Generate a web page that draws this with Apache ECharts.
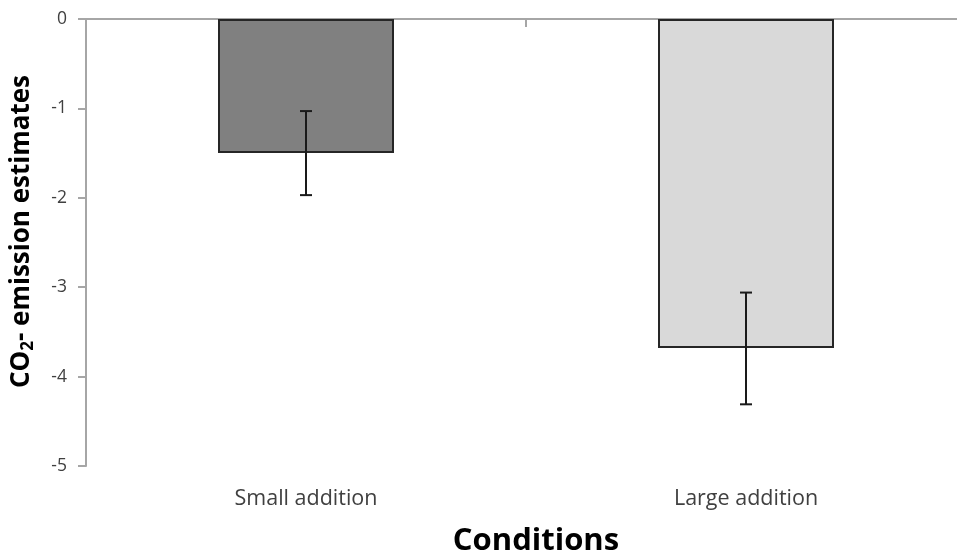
<!DOCTYPE html>
<html>
<head>
<meta charset="utf-8">
<script src="https://cdn.jsdelivr.net/npm/echarts@6/dist/echarts.min.js"></script>
<style>html,body{margin:0;padding:0;background:#fff}#c{width:957px;height:555px}</style>
</head>
<body>
<div id="c"></div>
<script>
const categories = ['Small addition', 'Large addition'];
const means = [-1.50, -3.68];
const errLow = [-1.97, -4.31];
const errHigh = [-1.03, -3.06];
const yTicks = [0, -1, -2, -3, -4, -5];
const barColors = ['#808080', '#d9d9d9'];

const FONT = 'Open Sans';
const chart = echarts.init(document.getElementById('c'));
chart.setOption({
  animation: false,
  grid: { left: 86, right: -9, top: 19, bottom: 89, containLabel: false, outerBoundsMode: 'none' },
  xAxis: [
    {
      type: 'category', data: categories, position: 'top',
      axisLine: { show: true, lineStyle: { color: '#a6a6a6', width: 2 } },
      axisTick: { show: true, inside: true, length: 8, lineStyle: { color: '#a6a6a6', width: 2 } },
      axisLabel: { show: false }
    },
    {
      type: 'category', data: categories, position: 'bottom',
      axisLine: { show: false }, axisTick: { show: false },
      axisLabel: { margin: 22, fontFamily: FONT, fontSize: 21.5, color: '#404040' },
      name: 'Conditions', nameLocation: 'middle', nameGap: 60,
      nameTextStyle: { fontFamily: FONT, fontSize: 31, fontWeight: 'bold', color: '#000', padding: [0, 0, 0, 20] }
    }
  ],
  yAxis: {
    type: 'value', min: -5, max: 0, interval: 1,
    axisLine: { show: true, lineStyle: { color: '#a6a6a6', width: 2 } },
    axisTick: { show: true, length: 8, lineStyle: { color: '#a6a6a6', width: 2 } },
    splitLine: { show: false },
    axisLabel: {
      margin: 19, fontFamily: FONT, fontSize: 17.5, color: '#404040',
      formatter: v => yTicks.includes(v) ? String(v) : ''
    },
    name: '{a|CO}{s|2}{a|- emission estimates}',
    nameLocation: 'middle', nameGap: 48, nameRotate: 90,
    nameTextStyle: {
      padding: [0, 0, 0, 22],
      rich: {
        a: { fontFamily: FONT, fontSize: 26, fontWeight: 'bold', color: '#000', lineHeight: 32 },
        s: { fontFamily: FONT, fontSize: 17, fontWeight: 'bold', color: '#000', lineHeight: 32, padding: [13, 0, 0, 0] }
      }
    }
  },
  series: [
    {
      type: 'bar', xAxisIndex: 0, barWidth: '40%',
      data: means.map((v, i) => ({ value: v, itemStyle: { color: barColors[i] } })),
      itemStyle: { borderColor: '#262626', borderWidth: 2 }
    },
    {
      type: 'custom', xAxisIndex: 0, z: 10,
      data: categories.map((c, i) => [i, errLow[i], errHigh[i]]),
      renderItem: (params, api) => {
        const lo = api.coord([api.value(0), api.value(1)]);
        const hi = api.coord([api.value(0), api.value(2)]);
        const hw = 6;
        const st = { stroke: '#1a1a1a', lineWidth: 2 };
        return {
          type: 'group',
          children: [
            { type: 'line', shape: { x1: lo[0], y1: lo[1], x2: hi[0], y2: hi[1] }, style: st },
            { type: 'line', shape: { x1: lo[0] - hw, y1: lo[1], x2: lo[0] + hw, y2: lo[1] }, style: st },
            { type: 'line', shape: { x1: hi[0] - hw, y1: hi[1], x2: hi[0] + hw, y2: hi[1] }, style: st }
          ]
        };
      }
    }
  ]
});
</script>
</body>
</html>
